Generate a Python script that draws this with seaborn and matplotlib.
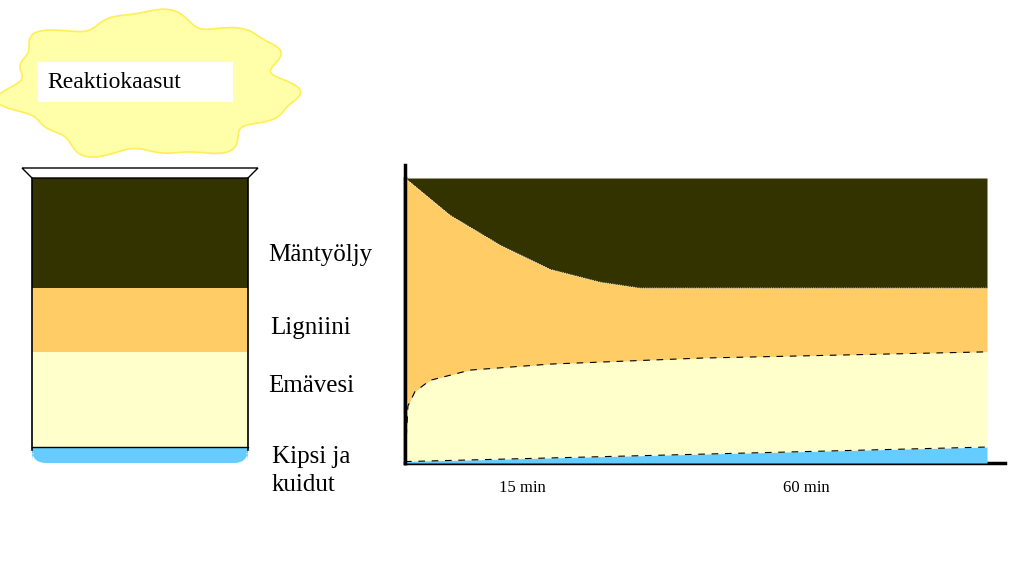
import numpy as np
import pandas as pd
import seaborn as sns
import matplotlib.pyplot as plt
from matplotlib.patches import Polygon, FancyBboxPatch

# Data (time % of axis, layer boundary height % of axis)
top_x = [0, 7.7, 16.3, 24.9, 33.5, 40.4, 100]
top_y = [100, 87, 76.5, 68, 63.5, 61.4, 61.4]
mid_x = [0, 0.5, 1.7, 4.3, 11.2, 24.9, 50.7, 100]
mid_y = [0, 20, 25, 29, 32.6, 34.7, 36.8, 39]
low_x = [0, 100]
low_y = [0.5, 5.6]
tick_pos = [20.2, 69]
tick_labels = ["15 min", "60 min"]
layer_names = ["Mäntyöljy", "Ligniini", "Emävesi", "Kipsi ja\nkuidut"]

DARK, ORANGE, LIGHT, BLUE = "#333300", "#FFCC66", "#FFFFCC", "#66CCFF"
plt.rcParams["font.family"] = "Liberation Serif"

fig = plt.figure(figsize=(10.23, 5.63), dpi=100)
W, H = 1023, 563
# overlay in pixel coords
ov = fig.add_axes([0, 0, 1, 1])
ov.set_xlim(0, W); ov.set_ylim(H, 0); ov.axis("off")

# chart axes: px 405..987, py 178..463
ax = fig.add_axes([405 / W, 1 - 463 / H, 582 / W, 285 / H])
xs = np.linspace(0, 100, 600)
t = np.interp(xs, top_x, top_y)
m = np.interp(xs, mid_x, mid_y)
l = np.interp(xs, low_x, low_y)
ax.fill_between(xs, t, 100, color=DARK, lw=0)
ax.fill_between(xs, m, t, color=ORANGE, lw=0)
ax.fill_between(xs, l, m, color=LIGHT, lw=0)
ax.fill_between(xs, 0, l, color=BLUE, lw=0)
sns.lineplot(x=mid_x, y=mid_y, ax=ax, color="black", lw=0.8, ls=(0, (6, 6)))
sns.lineplot(x=low_x, y=low_y, ax=ax, color="black", lw=0.8, ls=(0, (6, 6)))
sns.lineplot(x=top_x, y=top_y, ax=ax, color="white", lw=0.6, ls=":")
ax.set_xlim(0, 100); ax.set_ylim(0, 100)
ax.set_xticks(tick_pos); ax.set_xticklabels(tick_labels, fontsize=12)
ax.tick_params(length=0, pad=12)
ax.set_yticks([])
for s in ["top", "right"]:
    ax.spines[s].set_visible(False)
ax.spines["left"].set_linewidth(2.5)
ax.spines["bottom"].set_visible(False)
ax.patch.set_alpha(0)
ov.plot([405, 1005], [463, 463], color="black", lw=2.5)
ov.plot([405, 405], [165, 463], color="black", lw=2.5)

# beaker
bands = [(178, 288, DARK), (288, 352, ORANGE), (352, 447, LIGHT)]
for y0, y1, c in bands:
    ov.add_patch(plt.Rectangle((32, y0), 216, y1 - y0, color=c, lw=0))
ov.add_patch(FancyBboxPatch((32, 447), 216, 16, boxstyle="round,pad=0,rounding_size=14",
                            fc=BLUE, ec="none"))
ov.add_patch(plt.Rectangle((32, 447), 216, 6, color=BLUE, lw=0))
ov.plot([32, 32], [178, 450], color="black", lw=1.2)
ov.plot([248, 248], [178, 450], color="black", lw=1.2)
ov.add_patch(Polygon([(22, 168), (258, 168), (248, 178), (32, 178)], closed=True,
                     fc="white", ec="black", lw=1))
ov.plot([32, 32, 248], [447, 447, 447], color="black", lw=1)

# cloud
ang = np.linspace(0, 2 * np.pi, 400)
r = 1 + 0.08 * np.sin(7 * ang) + 0.04 * np.sin(13 * ang + 1)
cx, cy = 150, 85
ov.add_patch(Polygon(np.c_[cx + 140 * r * np.cos(ang), cy + 70 * r * np.sin(ang)],
                     closed=True, fc="#FFFFAA", ec="#FFEE55", lw=1.2))
ov.add_patch(plt.Rectangle((38, 62), 195, 40, fc="white", ec="none"))
ov.text(47, 82, "Reaktiokaasut", fontsize=17, va="center")

# layer labels
for name, (x, y) in zip(layer_names, [(268, 255), (270, 328), (268, 386), (272, 471)]):
    ov.text(x, y, name, fontsize=18, va="center", linespacing=1.4)

fig.savefig("out.png", dpi=100)
